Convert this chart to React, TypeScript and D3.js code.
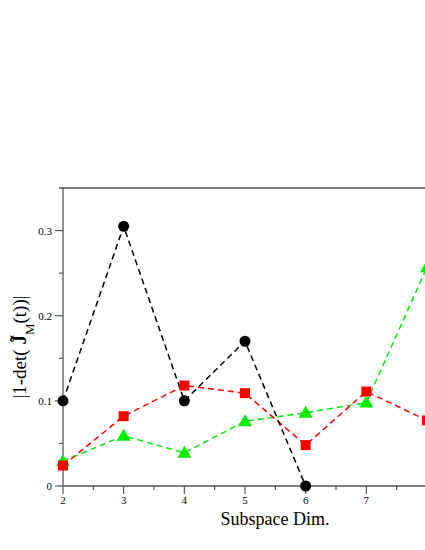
import { useEffect, useRef } from 'react';
import * as d3 from 'd3';

const dims = [2, 3, 4, 5, 6, 7, 8];
const blackVals = [0.1, 0.305, 0.1, 0.17, 0.0];
const redVals = [0.024, 0.082, 0.118, 0.109, 0.048, 0.111, 0.077];
const greenVals = [0.029, 0.059, 0.039, 0.076, 0.086, 0.098, 0.257];
const xTicks = [2, 3, 4, 5, 6, 7];
const yTicks = [0, 0.1, 0.2, 0.3];

const W = 425;
const H = 550;
const AXIS = '#555';

export default function App() {
  const ref = useRef<SVGSVGElement | null>(null);

  useEffect(() => {
    if (!ref.current) return;
    const svg = d3.select(ref.current);
    svg.selectAll('*').remove();

    const x = d3.scaleLinear().domain([2, 8]).range([63, 427]);
    const y = d3.scaleLinear().domain([0, 0.35]).range([486, 188]);

    const font = 'Liberation Serif, DejaVu Serif, serif';

    // frame lines (left, top, bottom)
    svg.append('line').attr('x1', x(2)).attr('x2', x(2)).attr('y1', y(0.35)).attr('y2', y(0))
      .attr('stroke', AXIS).attr('stroke-width', 1.3);
    svg.append('line').attr('x1', 59).attr('x2', W).attr('y1', y(0.35)).attr('y2', y(0.35))
      .attr('stroke', AXIS).attr('stroke-width', 1.3);
    svg.append('line').attr('x1', x(2)).attr('x2', W).attr('y1', y(0)).attr('y2', y(0))
      .attr('stroke', AXIS).attr('stroke-width', 1.3);

    // y ticks
    const yMinor = d3.range(0.05, 0.35, 0.1);
    svg.selectAll('.ymaj').data(yTicks).join('line')
      .attr('x1', x(2) - 8).attr('x2', x(2)).attr('y1', d => y(d)).attr('y2', d => y(d))
      .attr('stroke', AXIS).attr('stroke-width', 1.2);
    svg.selectAll('.ymin').data(yMinor).join('line')
      .attr('x1', x(2) - 4).attr('x2', x(2)).attr('y1', d => y(d)).attr('y2', d => y(d))
      .attr('stroke', AXIS).attr('stroke-width', 1.2);
    svg.selectAll('.ylab').data(yTicks).join('text')
      .attr('x', 52).attr('y', d => y(d) + 4)
      .attr('text-anchor', 'end')
      .style('font-family', font).style('font-size', '11px')
      .text(d => (d === 0 ? '0' : d.toFixed(1)));

    // x ticks
    const xMinor = d3.range(2.5, 8, 1);
    svg.selectAll('.xmaj').data(xTicks).join('line')
      .attr('x1', d => x(d)).attr('x2', d => x(d)).attr('y1', y(0)).attr('y2', y(0) + 8)
      .attr('stroke', AXIS).attr('stroke-width', 1.2);
    svg.selectAll('.xmin').data(xMinor).join('line')
      .attr('x1', d => x(d)).attr('x2', d => x(d)).attr('y1', y(0)).attr('y2', y(0) + 4)
      .attr('stroke', AXIS).attr('stroke-width', 1.2);
    svg.selectAll('.xlab').data(xTicks).join('text')
      .attr('x', d => x(d)).attr('y', 504)
      .attr('text-anchor', 'middle')
      .style('font-family', font).style('font-size', '11px')
      .text(d => d);

    const series = [
      { vals: blackVals, color: '#000000', marker: 'circle' },
      { vals: redVals, color: '#ff0000', marker: 'square' },
      { vals: greenVals, color: '#00ee00', marker: 'triangle' },
    ];

    const line = d3.line<number>().x((_, i) => x(dims[i])).y(d => y(d));
    const order = [2, 1, 0];
    order.forEach(k => {
      const s = series[k];
      svg.append('path').datum(s.vals)
        .attr('d', line)
        .attr('fill', 'none')
        .attr('stroke', s.color)
        .attr('stroke-width', 1.5)
        .attr('stroke-dasharray', '6,4');
    });
    order.forEach(k => {
      const s = series[k];
      const sym = s.marker === 'circle' ? d3.symbolCircle : s.marker === 'square' ? d3.symbolSquare : d3.symbolTriangle;
      const size = s.marker === 'circle' ? 95 : s.marker === 'square' ? 100 : 85;
      svg.selectAll(`.m${k}`).data(s.vals).join('path')
        .attr('transform', (d, i) => `translate(${x(dims[i])},${y(d) + (s.marker === 'triangle' ? 1 : 0)})`)
        .attr('d', d3.symbol().type(sym).size(size)())
        .attr('fill', s.color);
    });

    // axis titles
    svg.append('text')
      .attr('x', 275).attr('y', 525)
      .attr('text-anchor', 'middle')
      .style('font-family', font).style('font-size', '18px')
      .text('Subspace Dim.');

    const yl = svg.append('text')
      .attr('transform', 'translate(26,347) rotate(-90)')
      .attr('text-anchor', 'middle')
      .style('font-family', font).style('font-size', '19px');
    yl.append('tspan').text('|1-det( ');
    yl.append('tspan').style('font-weight', 'bold').text('J\u0303');
    yl.append('tspan').attr('baseline-shift', 'sub').style('font-size', '13px').text('M');
    yl.append('tspan').text('(t))|');
  }, []);

  return (
    <svg
      ref={ref}
      width={W}
      height={H}
      style={{ position: 'absolute', left: 0, top: 0, background: '#fff' }}
    />
  );
}
